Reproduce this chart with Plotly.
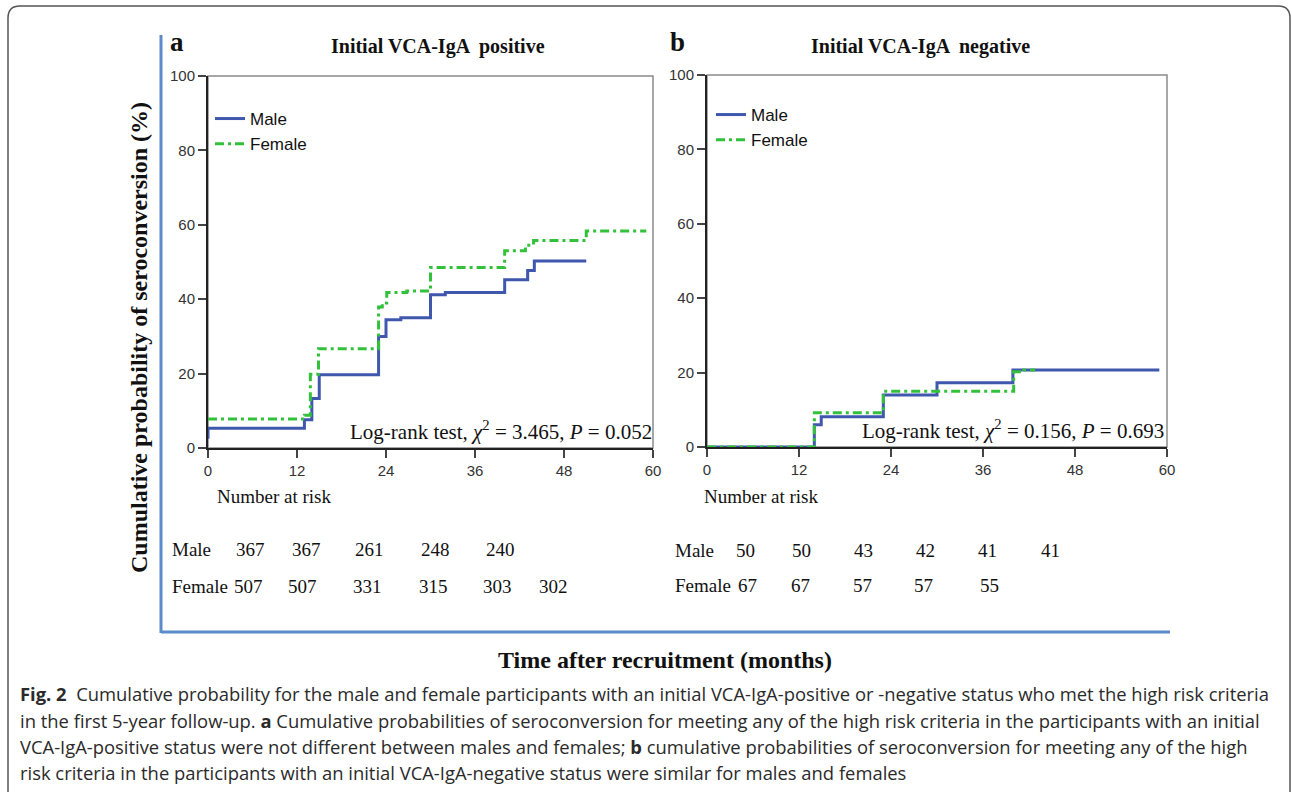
import plotly.graph_objects as go

W, H = 1292, 794

# ---------------- data ----------------
months_ticks = [0, 12, 24, 36, 48, 60]
y_ticks = [0, 20, 40, 60, 80, 100]

# Panel a (initial VCA-IgA positive)
a_male_t = [0, 0, 13.0, 14.0, 15.0, 23.0, 24.0, 26.0, 30.0, 32.0, 40.0, 43.1, 44.0, 51.0]
a_male_p = [2.5, 5.3, 7.6, 13.3, 19.7, 30.0, 34.5, 35.0, 41.2, 41.8, 45.2, 47.7, 50.3, 50.3]
a_female_t = [0, 13.0, 13.8, 14.9, 23.0, 23.5, 24.1, 26.8, 30.0, 40.0, 42.8, 43.9, 51.0, 59.1]
a_female_p = [7.8, 8.8, 19.8, 26.7, 37.9, 39.0, 41.8, 42.2, 48.5, 53.0, 54.5, 55.8, 58.3, 58.3]

# Panel b (initial VCA-IgA negative)
b_male_t = [0, 14.0, 14.9, 23.0, 30.0, 39.9, 59.0]
b_male_p = [0, 6.0, 8.1, 14.0, 17.3, 20.7, 20.7]
b_female_t = [0, 14.0, 23.0, 40.0, 41.3, 42.8]
b_female_p = [0, 9.2, 15.0, 20.2, 20.7, 20.7]

# Number at risk
a_risk_male = [367, 367, 261, 248, 240]
a_risk_female = [507, 507, 331, 315, 303, 302]
b_risk_male = [50, 50, 43, 42, 41, 41]
b_risk_female = [67, 67, 57, 57, 55]

# ---------------- styles ----------------
MALE_C = "#3F58AE"
FEMALE_C = "#33C13C"
SERIF = "Liberation Serif, Times New Roman, serif"
SANS = "Liberation Sans, Arial, sans-serif"
CAP = "Open Sans, Noto Sans, sans-serif"


def px(x):
    return x / W


def py(y):
    return 1 - y / H


fig = go.Figure()

male_line = dict(color=MALE_C, width=3)
female_line = dict(color=FEMALE_C, width=3, dash="9px,4px,3px,4px")

fig.add_trace(go.Scatter(x=a_male_t, y=a_male_p, mode="lines", line=male_line, line_shape="hv",
                         name="Male", xaxis="x", yaxis="y", legend="legend"))
fig.add_trace(go.Scatter(x=a_female_t, y=a_female_p, mode="lines", line=female_line, line_shape="hv",
                         name="Female", xaxis="x", yaxis="y", legend="legend"))
fig.add_trace(go.Scatter(x=b_male_t, y=b_male_p, mode="lines", line=male_line, line_shape="hv",
                         name="Male", xaxis="x2", yaxis="y2", legend="legend2"))
fig.add_trace(go.Scatter(x=b_female_t, y=b_female_p, mode="lines", line=female_line, line_shape="hv",
                         name="Female", xaxis="x2", yaxis="y2", legend="legend2"))

axis_common = dict(showgrid=False, zeroline=False, showline=True, linecolor="#222", linewidth=2,
                   ticks="outside", ticklen=8, tickwidth=1.5, tickcolor="#444",
                   tickfont=dict(family=SANS, size=15, color="#333"))

fig.update_layout(
    width=W, height=H, margin=dict(l=0, r=0, t=0, b=0, autoexpand=False),
    paper_bgcolor="white", plot_bgcolor="white",
    xaxis=dict(domain=[px(208), px(653)], range=[0, 60], tickvals=months_ticks, anchor="y",
               automargin=False, **axis_common),
    yaxis=dict(domain=[py(448), py(76)], range=[0, 100], tickvals=y_ticks, anchor="x",
               automargin=False, **axis_common),
    xaxis2=dict(domain=[px(707), px(1167)], range=[0, 60], tickvals=months_ticks, anchor="y2",
                automargin=False, **axis_common),
    yaxis2=dict(domain=[py(447), py(75)], range=[0, 100], tickvals=y_ticks, anchor="x2",
                automargin=False, **axis_common),
    legend=dict(x=px(210), y=py(101), xanchor="left", yanchor="top", bgcolor="rgba(0,0,0,0)",
                font=dict(family=SANS, size=17, color="#111"), itemwidth=30, tracegroupgap=0),
    legend2=dict(x=px(711), y=py(97), xanchor="left", yanchor="top", bgcolor="rgba(0,0,0,0)",
                 font=dict(family=SANS, size=17, color="#111"), itemwidth=30, tracegroupgap=0),
)

# grey plot frames (top/right)
for xr, yr in [("x domain", "y domain"), ("x2 domain", "y2 domain")]:
    fig.add_shape(type="rect", xref=xr, yref=yr, x0=0, x1=1, y0=0, y1=1,
                  line=dict(color="#8a8a8a", width=1.5), layer="below")

# blue L frame
fig.add_shape(type="line", xref="paper", yref="paper", x0=px(161), x1=px(161), y0=py(35), y1=py(633),
              line=dict(color="#5B8BCB", width=3))
fig.add_shape(type="line", xref="paper", yref="paper", x0=px(161), x1=px(1170), y0=py(632), y1=py(632),
              line=dict(color="#5B8BCB", width=3))

# outer rounded frame
L, R, T, B, r = 8, 1290, 6, 792, 12
path = (f"M {px(L)},{py(B)} L {px(L)},{py(T + r)} Q {px(L)},{py(T)} {px(L + r)},{py(T)} "
        f"L {px(R - r)},{py(T)} Q {px(R)},{py(T)} {px(R)},{py(T + r)} L {px(R)},{py(B)}")
fig.add_shape(type="path", xref="paper", yref="paper", path=path, line=dict(color="#555", width=1.5))

ann = []


def text(x, y, s, size, family=SERIF, color="#111", xanchor="center", **kw):
    ann.append(dict(x=px(x), y=py(y), xref="paper", yref="paper", text=s, showarrow=False,
                    font=dict(family=family, size=size, color=color), xanchor=xanchor,
                    yanchor="middle", **kw))


# panel labels and titles
text(177, 42, "<b>a</b>", 27)
text(678, 42, "<b>b</b>", 27)
text(438, 46, "<b>Initial VCA-IgA  positive</b>", 20)
text(920, 46, "<b>Initial VCA-IgA  negative</b>", 20)

# log-rank annotations
text(654, 430, "Log-rank test, <i>χ</i><sup>2</sup> = 3.465, <i>P</i> = 0.052", 21, xanchor="right")
text(1166, 429, "Log-rank test, <i>χ</i><sup>2</sup> = 0.156, <i>P</i> = 0.693", 21, xanchor="right")

# axis titles
text(139, 338, "<b>Cumulative probability of seroconversion (%)</b>", 24, textangle=-90)
text(665, 660, "<b>Time after recruitment (months)</b>", 24)

# number at risk, panel a
text(215, 497, "Number at risk", 19, xanchor="left")
text(170, 549, "Male", 19, xanchor="left")
text(170, 586, "Female", 19, xanchor="left")
for xc, v in zip([250, 306, 370, 435, 500], a_risk_male):
    text(xc, 549, str(v), 19)
for xc, v in zip([248, 302, 367, 433, 497, 553], a_risk_female):
    text(xc, 586, str(v), 19)

# number at risk, panel b
text(702, 497, "Number at risk", 19, xanchor="left")
text(673, 550, "Male", 19, xanchor="left")
text(673, 585, "Female", 19, xanchor="left")
for xc, v in zip([745, 802, 863, 926, 988, 1050], b_risk_male):
    text(xc, 550, str(v), 19)
for xc, v in zip([747, 800, 862, 923, 989], b_risk_female):
    text(xc, 585, str(v), 19)

# caption
cap_lines = [
    "<b>Fig. 2</b>  Cumulative probability for the male and female participants with an initial VCA-IgA-positive or -negative status who met the high risk criteria",
    "in the first 5-year follow-up. <b>a</b> Cumulative probabilities of seroconversion for meeting any of the high risk criteria in the participants with an initial",
    "VCA-IgA-positive status were not different between males and females; <b>b</b> cumulative probabilities of seroconversion for meeting any of the high",
    "risk criteria in the participants with an initial VCA-IgA-negative status were similar for males and females",
]
for yc, s in zip([693, 720, 746, 772], cap_lines):
    text(18, yc, s, 18.4, family=CAP, color="#2a2a2a", xanchor="left")

fig.update_layout(annotations=ann)
fig.write_html("out.html", config={"displayModeBar": False},
               post_script="document.body.style.margin='0';document.body.style.overflow='hidden';")
